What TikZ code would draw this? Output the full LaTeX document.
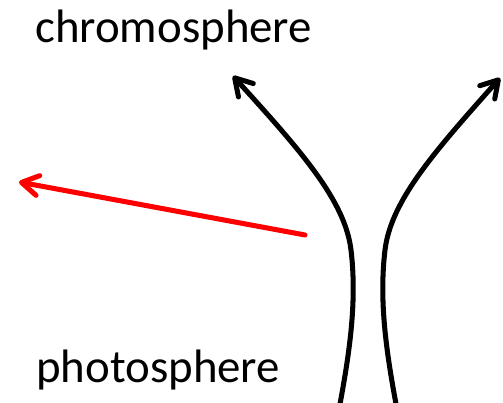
\documentclass[tikz,border=0pt]{standalone}
\usepackage{fontspec}
\setmainfont{Carlito}
\usetikzlibrary{arrows.meta}
\tikzset{
  layer/.style={inner sep=0pt, anchor=base west, font=\fontsize{40}{48}\selectfont},
  flow/.style={line width=4.3pt, line cap=round, -{Straight Barb[length=0.5cm, width=0.6cm, line cap=round, round]}},
  wave/.style={flow, red}
}
\begin{document}
\begin{tikzpicture}[x=0.03cm, y=-0.03cm]
  \useasboundingbox (0,0) rectangle (503,403);

  % labels
  \node (chromo) [layer] at (35,43) {chromosphere};
  \node (photo) [layer] at (36,382) {photosphere};

  % end points of the field lines and the wave
  \coordinate (leftfoot) at (340,404);
  \coordinate (leftneck) at (351,250);
  \coordinate (lefttop) at (233,76);
  \coordinate (rightfoot) at (396,404);
  \coordinate (rightneck) at (385,250);
  \coordinate (righttop) at (500,78);
  \coordinate (wavestart) at (305,235);
  \coordinate (waveend) at (19,182);

  % field lines
  \draw [flow] (leftfoot) .. controls (350,350) and (357,300) .. (leftneck)
               .. controls (345,200) and (300,150) .. (lefttop);
  \draw [flow] (rightfoot) .. controls (386,350) and (379,300) .. (rightneck)
               .. controls (391,200) and (436,150) .. (righttop);

  % wave
  \draw [wave] (wavestart) -- (waveend);
\end{tikzpicture}
\end{document}
